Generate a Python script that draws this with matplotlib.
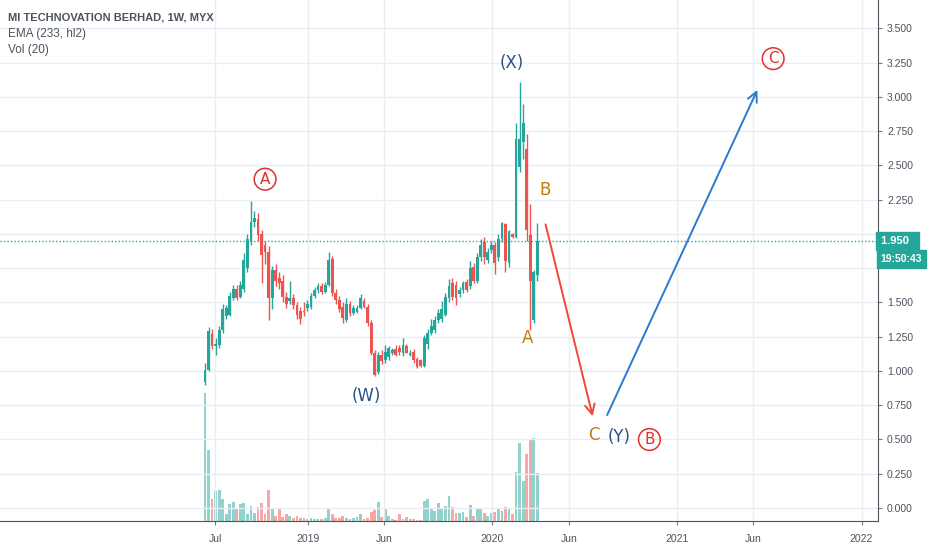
import matplotlib
matplotlib.use('Agg')
import matplotlib.pyplot as plt
import matplotlib.dates as mdates
import matplotlib.transforms as mtransforms
import pandas as pd

# weekly candles, MI Technovation (MYX)
dates = pd.date_range('2018-06-11', periods=95, freq='7D')

opens = [0.92, 1.01, 1.27, 1.18, 1.19, 1.30, 1.40, 1.41, 1.53, 1.60,
         1.54, 1.60, 1.75, 1.94, 2.09, 2.11, 2.00, 1.92, 1.87, 1.53,
         1.74, 1.68, 1.66, 1.54, 1.51, 1.53, 1.48, 1.44, 1.44, 1.46,
         1.47, 1.55, 1.59, 1.62, 1.58, 1.63, 1.82, 1.57, 1.52, 1.47,
         1.37, 1.49, 1.42, 1.43, 1.46, 1.51, 1.47, 1.35, 1.13, 0.99,
         1.12, 1.08, 1.10, 1.13, 1.16, 1.17, 1.13, 1.18, 1.12, 1.14,
         1.09, 1.08, 1.04, 1.20, 1.28, 1.30, 1.37, 1.38, 1.41, 1.53,
         1.64, 1.63, 1.56, 1.59, 1.65, 1.62, 1.76, 1.66, 1.83, 1.94,
         1.81, 1.88, 1.92, 1.83, 1.96, 2.07, 1.79, 2.00, 1.98, 2.49,
         2.67, 2.62, 1.99, 1.37, 1.70]
highs = [1.06, 1.32, 1.31, 1.24, 1.33, 1.49, 1.48, 1.58, 1.63, 1.63,
         1.66, 1.86, 2.00, 2.24, 2.17, 2.15, 2.03, 1.95, 1.91, 1.77,
         1.78, 1.72, 1.70, 1.58, 1.66, 1.56, 1.50, 1.47, 1.50, 1.52,
         1.57, 1.61, 1.64, 1.64, 1.65, 1.87, 1.84, 1.60, 1.55, 1.50,
         1.53, 1.51, 1.48, 1.48, 1.56, 1.53, 1.49, 1.37, 1.15, 1.14,
         1.15, 1.19, 1.18, 1.17, 1.19, 1.19, 1.24, 1.20, 1.15, 1.16,
         1.10, 1.09, 1.26, 1.31, 1.38, 1.40, 1.45, 1.51, 1.57, 1.67,
         1.68, 1.66, 1.61, 1.66, 1.67, 1.80, 1.79, 1.86, 1.96, 1.98,
         1.90, 1.95, 1.94, 2.00, 2.09, 2.08, 2.03, 2.01, 2.81, 3.11,
         2.95, 2.73, 2.22, 1.74, 2.08]
lows = [0.90, 1.00, 1.16, 1.12, 1.17, 1.28, 1.38, 1.40, 1.52, 1.52,
        1.53, 1.58, 1.72, 1.92, 2.05, 1.95, 1.64, 1.78, 1.37, 1.45,
        1.62, 1.60, 1.50, 1.46, 1.49, 1.45, 1.38, 1.34, 1.40, 1.44,
        1.45, 1.53, 1.57, 1.56, 1.57, 1.62, 1.55, 1.49, 1.43, 1.35,
        1.36, 1.40, 1.41, 1.42, 1.45, 1.46, 1.33, 1.12, 0.96, 0.98,
        1.05, 1.06, 1.08, 1.12, 1.11, 1.12, 1.11, 1.13, 1.11, 1.06,
        1.02, 1.03, 1.03, 1.16, 1.26, 1.28, 1.35, 1.36, 1.40, 1.50,
        1.52, 1.48, 1.54, 1.57, 1.58, 1.60, 1.64, 1.64, 1.80, 1.78,
        1.79, 1.86, 1.71, 1.80, 1.94, 1.72, 1.76, 1.97, 1.97, 2.45,
        2.55, 1.95, 1.30, 1.35, 1.66]
closes = [1.01, 1.29, 1.18, 1.20, 1.30, 1.45, 1.46, 1.55, 1.60, 1.53,
          1.63, 1.81, 1.96, 2.09, 2.12, 1.99, 1.85, 1.87, 1.53, 1.74,
          1.66, 1.64, 1.54, 1.49, 1.53, 1.48, 1.41, 1.38, 1.43, 1.49,
          1.55, 1.59, 1.62, 1.58, 1.63, 1.81, 1.57, 1.52, 1.45, 1.39,
          1.49, 1.42, 1.46, 1.46, 1.53, 1.47, 1.35, 1.13, 0.97, 1.12,
          1.07, 1.14, 1.17, 1.15, 1.12, 1.14, 1.19, 1.13, 1.13, 1.08,
          1.03, 1.04, 1.24, 1.28, 1.33, 1.37, 1.42, 1.45, 1.54, 1.62,
          1.54, 1.53, 1.59, 1.64, 1.59, 1.75, 1.66, 1.83, 1.92, 1.83,
          1.87, 1.92, 1.79, 1.96, 2.08, 1.80, 2.02, 1.98, 2.69, 2.69,
          2.81, 2.03, 1.66, 1.72, 1.95]
# volume in arbitrary units (scale not shown on chart)
volumes = [385, 213, 67, 90, 93, 65, 22, 50, 58, 35,
           52, 55, 22, 45, 25, 42, 53, 22, 92, 40,
           15, 37, 12, 20, 15, 10, 14, 8, 8, 7,
           10, 6, 6, 6, 10, 40, 22, 8, 8, 16,
           8, 6, 8, 13, 20, 5, 8, 28, 32, 57,
           12, 35, 15, 6, 4, 22, 6, 12, 6, 6,
           3, 3, 60, 65, 35, 30, 53, 37, 45, 75,
           43, 24, 25, 27, 12, 48, 16, 40, 36, 23,
           15, 23, 26, 37, 30, 42, 40, 20, 148, 234,
           120, 200, 242, 248, 145]

last_price = 1.95
price_ticks = [0.0, 0.25, 0.5, 0.75, 1.0, 1.25, 1.5, 1.75, 2.0, 2.25, 2.5, 2.75, 3.0, 3.25, 3.5]
# 1.750 and 2.000 sit under the price tags, so their labels are left blank
hidden_ticks = [1.75, 2.0]
date_ticks = ['2018-07-01', '2019-01-01', '2019-06-01', '2020-01-01',
              '2020-06-01', '2021-01-01', '2021-06-01', '2022-01-01']
date_labels = ['Jul', '2019', 'Jun', '2020', 'Jun', '2021', 'Jun', '2022']

# wave labels: (text, date, price, colour, circled)
wave_labels = [
    ('A', '2018-10-08', 2.40, '#e0302a', True),
    ('(W)', '2019-04-26', 0.82, '#2a4f8f', False),
    ('(X)', '2020-02-08', 3.25, '#2a4f8f', False),
    ('B', '2020-04-15', 2.32, '#c27c0e', False),
    ('A', '2020-03-11', 1.24, '#c27c0e', False),
    ('C', '2020-07-21', 0.53, '#c27c0e', False),
    ('(Y)', '2020-09-09', 0.52, '#2a4f8f', False),
    ('B', '2020-11-07', 0.50, '#e0302a', True),
    ('C', '2021-07-10', 3.28, '#e0302a', True),
]
# projected path arrows: (start date, start price, end date, end price, colour)
arrows = [
    ('2020-04-14', 2.09, '2020-07-19', 0.65, '#f0473a'),
    ('2020-08-13', 0.66, '2021-06-11', 3.07, '#2a7ad2'),
]

up_col = '#26a69a'
down_col = '#ef5350'
text_col = '#4c525e'
grid_col = '#eaedf3'

fig = plt.figure(figsize=(9.32, 5.5), dpi=100)
rect = [0, 29 / 550, 878 / 932, 521 / 550]

# volume panel sits underneath the price axes
ax_vol = fig.add_axes(rect)
ax = fig.add_axes(rect, sharex=ax_vol)
ax.set_facecolor('none')

x = mdates.date2num(dates)
vcols = [up_col if c >= o else down_col for o, c in zip(opens, closes)]
ax_vol.bar(x, volumes, width=5.5, color=vcols, alpha=0.5, linewidth=0)
ax_vol.set_ylim(0, 1565)
ax_vol.axis('off')

for xi, o, h, l, c in zip(x, opens, highs, lows, closes):
    col = up_col if c >= o else down_col
    ax.vlines(xi, l, h, color=col, linewidth=1.0, zorder=3)
    ax.bar(xi, abs(c - o) if abs(c - o) > 0.004 else 0.006, bottom=min(o, c),
           width=5.5, color=col, linewidth=0, zorder=3)

ax.axhline(last_price, color=up_col, linestyle=(0, (1, 1.5)), linewidth=1, zorder=2)

d0 = mdates.date2num(pd.Timestamp('2019-01-01'))
ax.set_xlim(d0 - 308 * 1.98, d0 + 570 * 1.98)
ax.set_ylim(-0.095, 3.708)

ax.set_xticks(mdates.date2num(pd.to_datetime(date_ticks)))
ax.set_xticklabels(date_labels)
ax.set_yticks(price_ticks)
ax.set_yticklabels(['' if v in hidden_ticks else '%.3f' % v for v in price_ticks])
ax.yaxis.tick_right()
ax.grid(True, color=grid_col, linewidth=1)
ax.tick_params(axis='both', colors='#787b86', labelcolor=text_col, labelsize=7.5, length=3, width=0.8)
ax.tick_params(axis='x', pad=6)
for lab in ax.get_xticklabels() + ax.get_yticklabels():
    lab.set_family('Liberation Sans')
for side in ['top', 'left']:
    ax.spines[side].set_visible(False)
ax.spines['right'].set_color('#50535e')
ax.spines['bottom'].set_color('#50535e')

# last price and countdown tags on the price scale
tr = mtransforms.blended_transform_factory(ax.transAxes, ax.transData)
ax.text(1.003, last_price, '1.950  ', transform=tr, ha='left', va='center', color='white',
        fontsize=8, fontweight='bold', family='Liberation Sans', clip_on=False, zorder=10,
        bbox=dict(boxstyle='square,pad=0.38', fc=up_col, ec=up_col))
ax.text(1.003, last_price - 0.13, '19:50:43', transform=tr, ha='left', va='center', color='white',
        fontsize=7.5, fontweight='bold', family='Liberation Sans', clip_on=False, zorder=10,
        bbox=dict(boxstyle='square,pad=0.38', fc=up_col, ec=up_col))

# header texts
fig.text(8 / 932, 1 - 18 / 550, 'MI TECHNOVATION BERHAD, 1W, MYX', fontsize=8, fontweight='bold',
         color=text_col, family='Liberation Sans', va='center')
fig.text(8 / 932, 1 - 34 / 550, 'EMA (233, hl2)', fontsize=8.5, color=text_col,
         family='Liberation Sans', va='center')
fig.text(8 / 932, 1 - 50 / 550, 'Vol (20)', fontsize=8.5, color=text_col,
         family='Liberation Sans', va='center')

for txt, d, p, col, circled in wave_labels:
    dx = mdates.date2num(pd.Timestamp(d))
    if circled:
        ax.text(dx, p, txt, color=col, fontsize=11, ha='center', va='center', zorder=6,
                bbox=dict(boxstyle='circle,pad=0.22', fc='none', ec=col, lw=1.1))
    else:
        ax.text(dx, p, txt, color=col, fontsize=12, ha='center', va='center', zorder=6)

for d1, p1, d2, p2, col in arrows:
    ax.annotate('', xy=(mdates.date2num(pd.Timestamp(d2)), p2),
                xytext=(mdates.date2num(pd.Timestamp(d1)), p1),
                arrowprops=dict(arrowstyle='->,head_length=0.7,head_width=0.35', color=col, lw=1.4),
                zorder=6)

fig.savefig('out.png', dpi=100)
